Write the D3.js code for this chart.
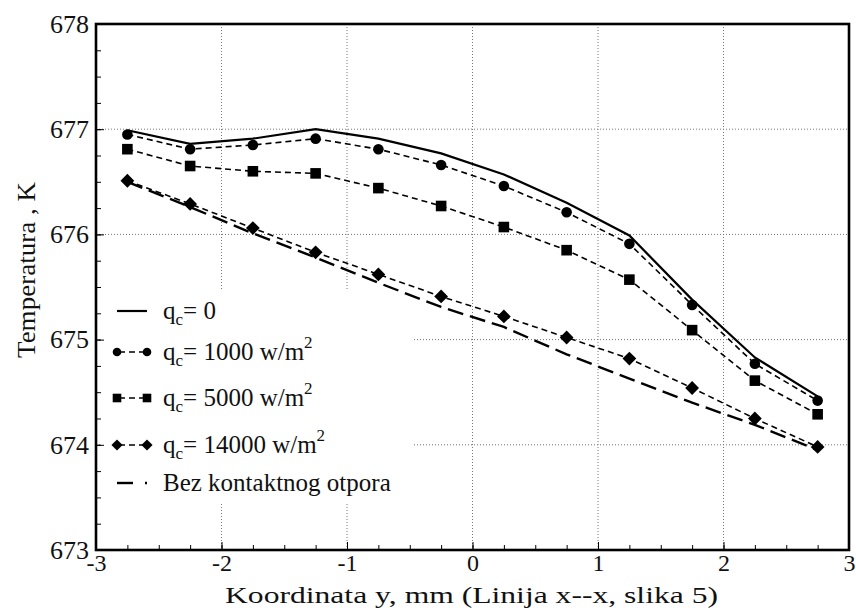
<!DOCTYPE html>
<html>
<head>
<meta charset="utf-8">
<script src="https://cdn.jsdelivr.net/npm/d3@7"></script>
<style>
  html, body { margin: 0; padding: 0; background: #fff; }
  svg, svg text { font-family: "Liberation Serif", "Times New Roman", serif !important; }
</style>
</head>
<body>
<div id="chart"></div>
<script>
// ==== Dữ liệu ====
const xs = [-2.75, -2.25, -1.75, -1.25, -0.75, -0.25, 0.25, 0.75, 1.25, 1.75, 2.25, 2.75];
const q0 = [676.99, 676.86, 676.91, 677.00, 676.91, 676.77, 676.57, 676.30, 675.99, 675.38, 674.83, 674.46];
const q1000 = [676.95, 676.81, 676.85, 676.91, 676.81, 676.66, 676.46, 676.21, 675.91, 675.33, 674.77, 674.42];
const q5000 = [676.81, 676.65, 676.60, 676.58, 676.44, 676.27, 676.07, 675.85, 675.57, 675.09, 674.61, 674.29];
const q14000 = [676.51, 676.29, 676.06, 675.83, 675.62, 675.41, 675.22, 675.02, 674.82, 674.54, 674.25, 673.98];
const bez = [676.50, 676.26, 676.01, 675.78, 675.54, 675.31, 675.12, 674.86, 674.63, 674.40, 674.19, 673.95];

const xTicks = [-3, -2, -1, 0, 1, 2, 3];
const yTicks = [673, 674, 675, 676, 677, 678];
const xGrid = [-2, -1, 0, 1, 2];
const yGrid = [674, 675, 676, 677];

const series = [
  { label: ["q", "c", "= 0", ""], values: q0, marker: null, dash: null, width: 2.2 },
  { label: ["q", "c", "= 1000 w/m", "2"], values: q1000, marker: "circle", dash: "6,4", width: 1.6 },
  { label: ["q", "c", "= 5000 w/m", "2"], values: q5000, marker: "square", dash: "6,4", width: 1.6 },
  { label: ["q", "c", "= 14000 w/m", "2"], values: q14000, marker: "diamond", dash: "6,4", width: 1.6 },
  { label: ["Bez kontaktnog otpora"], values: bez, marker: null, dash: "16,7", width: 2.4 }
];

const W = 856, H = 613;
const margin = { top: 24, right: 7, bottom: 63, left: 96 };
const width = W - margin.left - margin.right;
const height = H - margin.top - margin.bottom;
const FONT = "Liberation Serif";

const svgRoot = d3.select("#chart").append("svg")
  .attr("width", W).attr("height", H)
  .attr("font-family", FONT);
const svg = svgRoot.append("g")
  .attr("transform", `translate(${margin.left},${margin.top})`);

const x = d3.scaleLinear().domain([-3, 3]).range([0, width]);
const y = d3.scaleLinear().domain([673, 678]).range([height, 0]);

// ==== Lưới chấm ====
svg.append("g").selectAll("line").data(xGrid).enter().append("line")
  .attr("x1", d => x(d)).attr("x2", d => x(d))
  .attr("y1", 0).attr("y2", height)
  .attr("stroke", "#777").attr("stroke-width", 1).attr("stroke-dasharray", "1,2");
svg.append("g").selectAll("line").data(yGrid).enter().append("line")
  .attr("x1", 0).attr("x2", width)
  .attr("y1", d => y(d)).attr("y2", d => y(d))
  .attr("stroke", "#777").attr("stroke-width", 1).attr("stroke-dasharray", "1,2");

// nền trắng của chú thích (che lưới)
svg.append("rect")
  .attr("x", 4).attr("y", 265).attr("width", 312).attr("height", 214)
  .attr("fill", "#fff");

// ==== Trục ====
const minorX = d3.range(-3, 3.001, 0.25);
const minorY = d3.range(673, 678.001, 0.25);

svg.append("g")
  .attr("transform", `translate(0,${height})`)
  .call(d3.axisBottom(x).tickValues(minorX).tickSize(-5).tickFormat(""))
  .call(g => g.select(".domain").remove());
svg.append("g")
  .call(d3.axisLeft(y).tickValues(minorY).tickSize(-5).tickFormat(""))
  .call(g => g.select(".domain").remove());

const xAxis = svg.append("g")
  .attr("transform", `translate(0,${height})`)
  .call(d3.axisBottom(x).tickValues(xTicks).tickSize(-8).tickPadding(4).tickFormat(d => String(d)));
xAxis.attr("font-family", FONT);
xAxis.select(".domain").remove();
xAxis.selectAll("text").style("font-size", "24px").style("font-family", FONT).attr("fill", "#111");

const yAxis = svg.append("g")
  .call(d3.axisLeft(y).tickValues(yTicks).tickSize(-8).tickPadding(7).tickFormat(d => String(d)));
yAxis.attr("font-family", FONT);
yAxis.select(".domain").remove();
yAxis.selectAll("text").style("font-size", "26px").style("font-family", FONT).attr("fill", "#111");

// ==== Đường dữ liệu ====
const line = d3.line().x((d, i) => x(xs[i])).y(d => y(d));

function drawMarker(g, type, cx, cy, s) {
  if (type === "circle") {
    g.append("circle").attr("cx", cx).attr("cy", cy).attr("r", s).attr("fill", "#000");
  } else if (type === "square") {
    g.append("rect").attr("x", cx - s).attr("y", cy - s)
      .attr("width", 2 * s).attr("height", 2 * s).attr("fill", "#000");
  } else if (type === "diamond") {
    const r = s * 1.3;
    g.append("path")
      .attr("d", `M${cx},${cy - r}L${cx + r},${cy}L${cx},${cy + r}L${cx - r},${cy}Z`)
      .attr("fill", "#000");
  }
}

series.slice().reverse().forEach(s => {
  svg.append("path")
    .datum(s.values)
    .attr("d", line)
    .attr("fill", "none")
    .attr("stroke", "#000")
    .attr("stroke-width", s.width)
    .attr("stroke-dasharray", s.dash);
  if (s.marker) {
    const g = svg.append("g");
    s.values.forEach((v, i) => drawMarker(g, s.marker, x(xs[i]), y(v), 5.3));
  }
});

// ==== Khung ====
svg.append("rect")
  .attr("x", 0).attr("y", 0).attr("width", width).attr("height", height)
  .attr("fill", "none").attr("stroke", "#000").attr("stroke-width", 2.6);

// ==== Chú thích ====
const legendRows = [287, 328, 374, 421, 459];
const legend = svg.append("g");
series.forEach((s, i) => {
  const cy = legendRows[i];
  const x0 = 21, x1 = 51;
  if (i === 4) {
    legend.append("line").attr("x1", x0).attr("x2", x0 + 16).attr("y1", cy).attr("y2", cy)
      .attr("stroke", "#000").attr("stroke-width", 2.4);
    legend.append("line").attr("x1", x0 + 28).attr("x2", x0 + 30).attr("y1", cy).attr("y2", cy)
      .attr("stroke", "#000").attr("stroke-width", 2.4);
  } else {
    legend.append("line").attr("x1", x0).attr("x2", x1).attr("y1", cy).attr("y2", cy)
      .attr("stroke", "#000").attr("stroke-width", s.width)
      .attr("stroke-dasharray", s.marker ? "6,4" : null)
      .attr("stroke-dashoffset", s.marker ? -12 : null);
    if (s.marker) {
      drawMarker(legend, s.marker, x0, cy, 4.3);
      drawMarker(legend, s.marker, x1, cy, 4.3);
    }
  }
  const t = legend.append("text")
    .attr("x", 67).attr("y", cy + 8)
    .attr("font-size", 25).attr("fill", "#111");
  if (s.label.length === 1) {
    t.text(s.label[0]);
  } else {
    t.append("tspan").text(s.label[0]);
    t.append("tspan").attr("dy", 6).attr("font-size", 17).text(s.label[1]);
    t.append("tspan").attr("dy", -6).text(s.label[2]);
    if (s.label[3]) t.append("tspan").attr("dy", -12).attr("font-size", 17).text(s.label[3]);
  }
});

// ==== Tiêu đề trục ====
svgRoot.append("text")
  .attr("x", 225).attr("y", 603)
  .attr("font-size", 23).attr("fill", "#111")
  .attr("textLength", 493).attr("lengthAdjust", "spacingAndGlyphs")
  .text("Koordinata y, mm (Linija x--x, slika 5)");

svgRoot.append("text")
  .attr("transform", "translate(35,358) rotate(-90)")
  .attr("font-size", 25).attr("fill", "#111")
  .attr("textLength", 176).attr("lengthAdjust", "spacingAndGlyphs")
  .text("Temperatura , K");
</script>
</body>
</html>
